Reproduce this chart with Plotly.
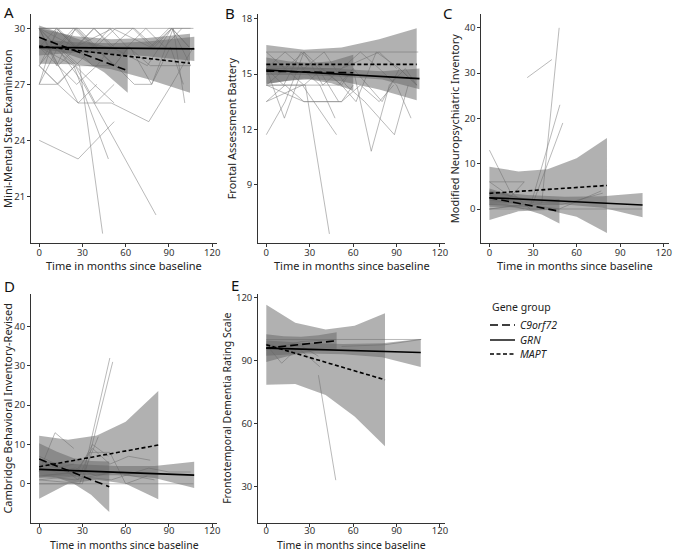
import plotly.graph_objects as go

W, H = 673, 552
GENES = ["C9orf72", "GRN", "MAPT"]
X_TICKS = [0, 30, 60, 90, 120]

# ---------------- Panel A: MMSE ----------------
mmse_subjects = [
    [(0, 30), (25, 30), (52, 30), (77, 30), (93, 30), (107, 30)],
    [(0, 29), (12, 30), (25, 29), (38, 30), (52, 29), (63, 29), (78, 27), (93, 30), (101, 26)],
    [(0, 30), (13, 29), (26, 30), (39, 29), (53, 30), (66, 30), (80, 29), (92, 30), (104, 29)],
    [(0, 24), (27, 23), (52, 25)],
    [(0, 29), (14, 29), (28, 28), (44, 19)],
    [(0, 30), (12, 29), (31, 27), (81, 20)],
    [(0, 29), (24, 28), (48, 23)],
    [(0, 28), (13, 27), (27, 26), (50, 26), (76, 25), (92, 27), (107, 29)],
    [(0, 27), (12, 27), (25, 28), (38, 27), (52, 26)],
    [(0, 28), (10, 29), (25, 28), (38, 29), (52, 28), (62, 29), (77, 28), (92, 28), (105, 28)],
    [(0, 29), (13, 28), (26, 29), (38, 30), (50, 29), (65, 30), (78, 29), (92, 30), (104, 29)],
    [(0, 30), (13, 30), (26, 29), (39, 29), (52, 28), (62, 29)],
    [(0, 27), (12, 30), (25, 29), (37, 28), (50, 28)],
    [(0, 28), (13, 27), (25, 28), (39, 26), (52, 27)],
    [(0, 30), (25, 29), (51, 30), (77, 29), (90, 30), (105, 30)],
    [(0, 29), (26, 29), (50, 29), (75, 28), (92, 30), (105, 28)],
    [(0, 28), (14, 30), (27, 30), (40, 29)],
    [(0, 30), (12, 28), (25, 30), (37, 30), (50, 30)],
    [(0, 30), (13, 28), (26, 27), (40, 28), (50, 29)],
    [(0, 30), (25, 30), (38, 29), (53, 28), (66, 27), (78, 27), (91, 29), (100, 27)],
    [(0, 29), (12, 29), (24, 30), (37, 29), (49, 30), (61, 29), (74, 30), (87, 29), (99, 30)],
    [(0, 27), (13, 29), (26, 28), (38, 28)],
    [(0, 30), (27, 26), (40, 27)],
]
mmse_fit_x = {"C9orf72": [0, 61.4], "GRN": [0, 107.6], "MAPT": [0, 104.6]}
mmse_fit_y = {"C9orf72": [29.52, 27.73], "GRN": [28.98, 28.9], "MAPT": [29.05, 28.13]}
mmse_band_x = {"C9orf72": [0, 15, 30, 45, 61.4], "GRN": [0, 25, 50, 75, 107.6], "MAPT": [0, 25, 50, 75, 104.6]}
mmse_band_hi = {"C9orf72": [30.15, 29.75, 29.35, 29.05, 28.9], "GRN": [29.4, 29.25, 29.2, 29.3, 29.55],
                "MAPT": [30.0, 29.58, 29.41, 29.49, 29.71]}
mmse_band_lo = {"C9orf72": [28.9, 28.75, 28.35, 27.65, 26.55], "GRN": [28.55, 28.7, 28.65, 28.5, 28.25],
                "MAPT": [28.1, 28.08, 27.81, 27.29, 26.55]}

# ---------------- Panel B: FAB ----------------
fab_subjects = [
    [(0, 16.2), (26, 16.2), (52, 16.2), (78, 16.2), (105, 16.2)],
    [(0, 11.7), (13, 13.5), (26, 16.2), (39, 14.4), (52, 15.3), (65, 16.2), (78, 15.3), (90, 14.4), (100, 12.6)],
    [(0, 14.4), (27, 14.4), (43.6, 6.3)],
    [(0, 15.3), (12.5, 12.6), (25, 15.3), (37, 14.4), (47.5, 12.6)],
    [(0, 13.5), (13, 14.4), (26, 13.5), (52, 13.5), (60, 14.4)],
    [(0, 14.4), (25, 14.4), (48.5, 11.7)],
    [(0, 16.2), (13, 15.3), (26, 14.4), (39, 15.3), (52, 14.4), (60, 15.3), (72.5, 10.8), (85, 14.4), (96, 15.3), (104, 14.4)],
    [(0, 15.3), (13, 16.2), (26, 15.3), (40, 16.2), (55, 14.4), (68, 13.5), (88.5, 11.7), (98, 14.4)],
    [(0, 14.4), (13, 15.3), (26, 16.2), (38, 15.3), (52, 14.4), (62, 13.5), (76, 16.2), (92, 15.3), (104, 14.4)],
    [(0, 13.5), (25, 14.4), (50, 14.4), (60, 15.3), (70, 14.4), (80, 13.5), (92, 15.3), (104, 14.4)],
    [(0, 15.3), (26, 15.3), (52, 15.3), (78, 16.2), (90, 15.3)],
    [(0, 14.4), (26, 13.5), (52, 13.5), (65, 14.4), (78, 13.5), (88, 14.4)],
    [(0, 15.3), (12, 14.4), (24, 16.2), (36, 15.3), (50, 13.5)],
]
fab_fit_x = {"C9orf72": [0, 60.1], "GRN": [0, 105.8], "MAPT": [0, 103.9]}
fab_fit_y = {"C9orf72": [15.16, 15.07], "GRN": [15.22, 14.75], "MAPT": [15.53, 15.53]}
fab_band_x = {"C9orf72": [0, 15, 30, 45, 60.1], "GRN": [0, 26, 53, 80, 105.8], "MAPT": [0, 26, 52, 78, 103.9]}
fab_band_hi = {"C9orf72": [15.9, 15.7, 15.6, 15.7, 16.05], "GRN": [15.5, 15.38, 15.25, 15.15, 15.31],
               "MAPT": [16.58, 16.32, 16.45, 16.9, 17.49]}
fab_band_lo = {"C9orf72": [14.45, 14.65, 14.7, 14.5, 14.1], "GRN": [14.95, 14.95, 14.85, 14.7, 14.18],
               "MAPT": [14.48, 14.74, 14.61, 14.16, 13.57]}

# ---------------- Panel C: NPI ----------------
npi_subjects = [
    [(0, 0), (25, 0), (50, 0), (78, 0), (105, 0)],
    [(0, 13), (14, 4), (28, 0)],
    [(0, 6), (12, 6), (24, 6)],
    [(0, 6), (14.6, 2.7), (24, 6)],
    [(0, 0), (36, 1.3), (48, 40)],
    [(0, 1), (28, 0.5), (48.5, 23)],
    [(0, 0), (30, 1.3), (50.5, 19)],
    [(26, 29), (43, 33)],
    [(0, 2), (25, 1), (48, 0), (77, 4)],
    [(0, 4), (12, 3), (25, 2), (37, 2)],
    [(0, 3), (25, 1), (50, 1), (78, 3.5)],
    [(0, 1), (12, 1), (24, 0)],
]
npi_fit_x = {"C9orf72": [0, 48.2], "GRN": [0, 105.4], "MAPT": [0, 80.9]}
npi_fit_y = {"C9orf72": [2.5, -0.5], "GRN": [2.5, 0.88], "MAPT": [3.46, 5.2]}
npi_band_x = {"C9orf72": [0, 12, 24, 36, 48.2], "GRN": [0, 26, 52, 78, 105.4], "MAPT": [0, 20, 40, 60, 80.9]}
npi_band_hi = {"C9orf72": [4.5, 3.3, 2.4, 2.1, 2.2], "GRN": [3.9, 3.1, 2.7, 2.8, 3.55],
               "MAPT": [9.34, 8.3, 8.8, 11.2, 15.7]}
npi_band_lo = {"C9orf72": [0.5, 0.4, 0.0, -1.2, -3.2], "GRN": [1.1, 1.3, 1.0, 0.3, -1.8],
               "MAPT": [-2.42, -0.5, -0.2, -1.7, -5.3]}

# ---------------- Panel D: CBI-R ----------------
cbir_subjects = [
    [(0, 0), (25, 0), (50, 0), (78, 0), (107, 0)],
    [(0, 3), (11, 13), (24, 9)],
    [(0, 2), (31, 3), (49, 32)],
    [(0, 1), (30, 0), (51, 31)],
    [(0, 5), (13, 4), (25, 2), (37, 10), (48, 7)],
    [(0, 7), (12, 5), (27, 1), (35, 8), (49, 8), (60, 0), (75, 2)],
    [(0, 2), (25, 3), (37, 9), (49, 5), (62, 7), (77, 6)],
    [(0, 4), (12, 3), (25, 4), (40, 2), (52, 3)],
    [(0, 1), (24, 2), (50, 1), (76, 4), (90, 3), (105, 3)],
    [(0, 6), (12, 4), (24, 5)],
    [(0, 0), (28, 0), (41, 12)],
    [(0, 2), (25, 1), (50, 3), (80, 1)],
]
cbir_fit_x = {"C9orf72": [0, 48.6], "GRN": [0, 107.5], "MAPT": [0, 82.6]}
cbir_fit_y = {"C9orf72": [6.3, -0.77], "GRN": [3.66, 2.2], "MAPT": [4.34, 9.86]}
cbir_band_x = {"C9orf72": [0, 12, 24, 36, 48.6], "GRN": [0, 27, 54, 80, 107.5], "MAPT": [0, 20, 40, 60, 82.6]}
cbir_band_hi = {"C9orf72": [10.3, 8.2, 6.5, 5.8, 5.7], "GRN": [5.8, 5.0, 4.5, 4.5, 5.6],
                "MAPT": [12.24, 11.2, 12.3, 15.8, 23.6]}
cbir_band_lo = {"C9orf72": [2.3, 1.6, 0.0, -2.8, -7.2], "GRN": [1.5, 2.2, 2.2, 1.5, -1.1],
                "MAPT": [-3.8, 0.0, 1.0, 0.0, -3.9]}

# ---------------- Panel E: FTD-RS ----------------
ftdrs_subjects = [
    [(0, 100), (26, 100), (53, 100), (80, 100), (107, 100)],
    [(0, 97.5), (10.6, 88.7), (22, 96), (37, 87)],
    [(0, 98), (12, 96), (24, 97), (36, 92)],
    [(36, 83), (48, 33)],
    [(52, 96.7), (82, 97.5), (107, 100)],
    [(0, 95), (24, 99), (48, 100)],
]
ftdrs_fit_x = {"C9orf72": [0, 48.6], "GRN": [0, 106.7], "MAPT": [0, 82]}
ftdrs_fit_y = {"C9orf72": [95.9, 99.4], "GRN": [95.9, 93.8], "MAPT": [97.5, 80.8]}
ftdrs_band_x = {"C9orf72": [0, 12, 24, 36, 48.6], "GRN": [0, 27, 53, 80, 106.7], "MAPT": [0, 20, 41, 61, 82]}
ftdrs_band_hi = {"C9orf72": [102.5, 101.5, 101.3, 102, 103.5], "GRN": [99.5, 98.3, 97.8, 98.2, 100.2],
                 "MAPT": [116.5, 108, 104.7, 106.5, 112.5]}
ftdrs_band_lo = {"C9orf72": [89.3, 91.5, 93.5, 94.8, 95.3], "GRN": [92.3, 93.3, 93.0, 91.5, 86.9],
                 "MAPT": [78.5, 78.8, 73.6, 63.3, 49.1]}

panel_letters = ["A", "B", "C", "D", "E"]
panel_titles = ["Mini-Mental State Examination", "Frontal Assessment Battery",
                "Modified Neuropsychiatric Inventory", "Cambridge Behavioral Inventory-Revised",
                "Frontotemporal Dementia Rating Scale"]
x_title = "Time in months since baseline"
panel_yticks = [[21, 24, 27, 30], [9, 12, 15, 18], [0, 10, 20, 30, 40], [0, 10, 20, 30, 40], [30, 60, 90, 120]]
panel_yrange = [[18.48, 30.77], [5.79, 18.27], [-7.57, 43.05], [-9.97, 48.4], [12.6, 121.9]]
legend_title = "Gene group"

panels = [
    (mmse_subjects, mmse_fit_x, mmse_fit_y, mmse_band_x, mmse_band_lo, mmse_band_hi),
    (fab_subjects, fab_fit_x, fab_fit_y, fab_band_x, fab_band_lo, fab_band_hi),
    (npi_subjects, npi_fit_x, npi_fit_y, npi_band_x, npi_band_lo, npi_band_hi),
    (cbir_subjects, cbir_fit_x, cbir_fit_y, cbir_band_x, cbir_band_lo, cbir_band_hi),
    (ftdrs_subjects, ftdrs_fit_x, ftdrs_fit_y, ftdrs_band_x, ftdrs_band_lo, ftdrs_band_hi),
]

# ---------------- styling ----------------
FONT = "Noto Sans, Open Sans, DejaVu Sans, sans-serif"
DASH = {"C9orf72": "8px,4px", "GRN": "solid", "MAPT": "4px,2.5px"}
COL_X = [(31.1, 217.4), (258.2, 445.2), (481.3, 669.0)]
ROW_Y = [(14, 243.3), (293.5, 523.0)]
XTITLE_Y = [265.5, 544.6]
XTITLE_SIZE = [11, 10.5]
YTITLE_SIZE = [11, 11, 11, 11, 10.5]
TICK_STANDOFF = [-3, -4]
POS = [(0, 0), (0, 1), (0, 2), (1, 0), (1, 1)]
LETTER_POS = [(2, 0), (223, 1), (441, 1), (2, 274), (229, 273)]
X_RANGE = [-5.6, 123.6]
LEG_X0, LEG_TITLE_Y, LEG_ITEM_Y = 490, 307, [325, 340, 354]

fig = go.Figure()
layout = dict(
    width=W, height=H, margin=dict(l=0, r=0, t=0, b=0, autoexpand=False),
    paper_bgcolor="white", plot_bgcolor="white",
    font=dict(family=FONT, size=10, color="#222"),
    showlegend=False,
)
annotations = []
shapes = []

for k, (subjects, fx, fy, bx, blo, bhi) in enumerate(panels):
    idx = k + 1
    xr = "x" if idx == 1 else f"x{idx}"
    yr = "y" if idx == 1 else f"y{idx}"
    # individual trajectories
    sx, sy = [], []
    for subj in subjects:
        for (m, v) in subj:
            sx.append(m)
            sy.append(v)
        sx.append(None)
        sy.append(None)
    fig.add_trace(go.Scatter(x=sx, y=sy, mode="lines", xaxis=xr, yaxis=yr,
                             line=dict(color="rgba(130,130,130,0.8)", width=0.7),
                             showlegend=False, hoverinfo="skip"))
    # confidence bands
    for g in GENES:
        px_ = bx[g] + bx[g][::-1]
        py_ = bhi[g] + blo[g][::-1]
        fig.add_trace(go.Scatter(x=px_, y=py_, mode="lines", fill="toself", xaxis=xr, yaxis=yr,
                                 fillcolor="rgba(100,100,100,0.5)", line=dict(width=0),
                                 showlegend=False, hoverinfo="skip"))
    # fitted lines
    for g in GENES:
        fig.add_trace(go.Scatter(x=fx[g], y=fy[g], mode="lines", xaxis=xr, yaxis=yr,
                                 line=dict(color="black", width=1.6, dash=DASH[g]),
                                 name=g, legendgroup=g, showlegend=False))

    r, c = POS[k]
    x0, x1 = COL_X[c]
    y0, y1 = ROW_Y[r]
    axstyle = dict(showline=True, linecolor="#333", linewidth=1, ticks="outside", ticklen=3,
                   tickcolor="#333", showgrid=False, zeroline=False, automargin=False,
                   tickfont=dict(size=9.5, color="#333"))
    layout["xaxis" if idx == 1 else f"xaxis{idx}"] = dict(
        domain=[x0 / W, x1 / W], anchor=yr, range=X_RANGE, tickvals=X_TICKS,
        ticklabelstandoff=TICK_STANDOFF[r], **axstyle)
    layout["yaxis" if idx == 1 else f"yaxis{idx}"] = dict(
        domain=[1 - y1 / H, 1 - y0 / H], anchor=xr, range=panel_yrange[k], tickvals=panel_yticks[k],
        title=dict(text=panel_titles[k], font=dict(size=YTITLE_SIZE[k], color="#222"), standoff=2),
        **axstyle)
    # x-axis title, centred under the panel
    annotations.append(dict(text=x_title, x=(x0 + x1) / 2 / W, y=1 - XTITLE_Y[r] / H,
                            xref="paper", yref="paper", xanchor="center", yanchor="middle",
                            showarrow=False, font=dict(size=XTITLE_SIZE[r], color="#222")))
    lx, ly = LETTER_POS[k]
    annotations.append(dict(text=panel_letters[k], x=lx / W, y=1 - ly / H, xref="paper", yref="paper",
                            xanchor="left", yanchor="top", showarrow=False,
                            font=dict(size=15, color="#111")))

# legend (drawn as keys + text in the empty sixth cell)
annotations.append(dict(text=legend_title, x=LEG_X0 / W, y=1 - LEG_TITLE_Y / H, xref="paper", yref="paper",
                        xanchor="left", yanchor="middle", showarrow=False,
                        font=dict(size=10.5, color="#222")))
for g, yy in zip(GENES, LEG_ITEM_Y):
    shapes.append(dict(type="line", xref="paper", yref="paper",
                       x0=LEG_X0 / W, x1=(LEG_X0 + 25) / W, y0=1 - yy / H, y1=1 - yy / H,
                       line=dict(color="black", width=1.4, dash=DASH[g])))
    annotations.append(dict(text=f"<i>{g}</i>", x=(LEG_X0 + 28) / W, y=1 - yy / H, xref="paper", yref="paper",
                            xanchor="left", yanchor="middle", showarrow=False,
                            font=dict(size=10.5, color="#222")))

layout["annotations"] = annotations
layout["shapes"] = shapes
fig.update_layout(**layout)
fig.write_html("out.html", config={"displayModeBar": False},
               post_script="document.body.style.margin='0';document.body.style.overflow='hidden';")
